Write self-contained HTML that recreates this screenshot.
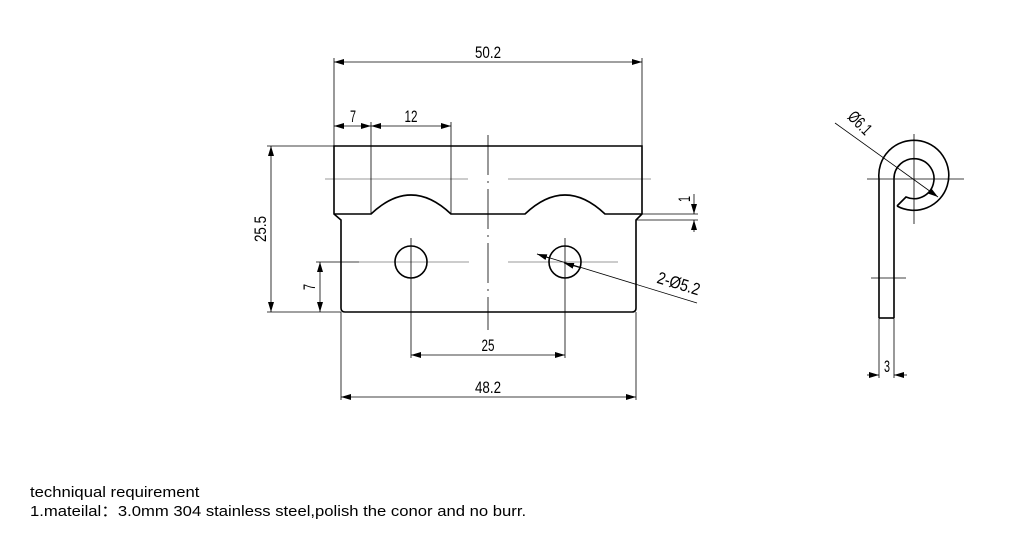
<!DOCTYPE html>
<html><head><style>
body{margin:0;background:#fff;width:1011px;height:549px;overflow:hidden;font-family:"Liberation Sans",sans-serif}
.t{position:absolute;left:30px;font-size:15px;color:#000;line-height:18px;transform-origin:0 0;transform:scaleX(1.11);white-space:nowrap}
</style></head><body>
<svg width="1011" height="549" style="position:absolute;left:0;top:0" font-family="Liberation Sans, sans-serif">
<defs><marker id="a" viewBox="0 0 10 6" refX="10" refY="3" markerWidth="10" markerHeight="6" orient="auto-start-reverse" markerUnits="userSpaceOnUse"><path d="M0,0L10,3L0,6z"/></marker></defs>
<g stroke="#999" stroke-width="1">
<line x1="325" y1="179" x2="468" y2="179"/><line x1="508" y1="179" x2="651" y2="179"/>
<line x1="359" y1="262" x2="469" y2="262"/><line x1="508" y1="262" x2="618" y2="262"/>
</g>
<g stroke="#000" stroke-width="0.8" fill="none">
<line x1="488" y1="135" x2="488" y2="330" stroke-dasharray="40,6,2,6"/>
<line x1="411" y1="238" x2="411" y2="358"/><line x1="565" y1="238" x2="565" y2="358"/>
<line x1="334" y1="58" x2="334" y2="146"/><line x1="642" y1="58" x2="642" y2="146"/>
<line x1="334" y1="62" x2="642" y2="62" marker-start="url(#a)" marker-end="url(#a)"/>
<line x1="371" y1="122" x2="371" y2="214"/><line x1="451" y1="122" x2="451" y2="214"/>
<line x1="334" y1="126" x2="371" y2="126" marker-start="url(#a)" marker-end="url(#a)"/>
<line x1="371" y1="126" x2="451" y2="126" marker-start="url(#a)" marker-end="url(#a)"/>
<line x1="267" y1="146" x2="334" y2="146"/><line x1="267" y1="312" x2="341" y2="312"/>
<line x1="271" y1="146" x2="271" y2="312" marker-start="url(#a)" marker-end="url(#a)"/>
<line x1="316" y1="262" x2="359" y2="262"/>
<line x1="320" y1="262" x2="320" y2="312" marker-start="url(#a)" marker-end="url(#a)"/>
<line x1="411" y1="355" x2="565" y2="355" marker-start="url(#a)" marker-end="url(#a)"/>
<line x1="341" y1="312" x2="341" y2="400"/><line x1="636" y1="312" x2="636" y2="400"/>
<line x1="341" y1="397" x2="636" y2="397" marker-start="url(#a)" marker-end="url(#a)"/>
<line x1="642" y1="214" x2="698" y2="214"/><line x1="636" y1="220" x2="698" y2="220"/>
<line x1="694" y1="194" x2="694" y2="214" marker-end="url(#a)"/><line x1="694" y1="232" x2="694" y2="220" marker-end="url(#a)"/>
<line x1="537" y1="254" x2="697" y2="303"/>
<line x1="537" y1="254" x2="549" y2="258" marker-start="url(#a)"/>
<line x1="565" y1="262" x2="582" y2="267" marker-end="url(#a)" transform="rotate(180 573 265)"/>
</g>
<g stroke="#000" stroke-width="1.6" fill="none">
<path d="M334,146H642V214L636,220V308Q636,312 632,312H345Q341,312 341,308V220L334,214Z"/>
<path d="M334,214H371Q411,176 451,214H525Q565,176 605,214H642"/>
<circle cx="411" cy="262" r="16"/><circle cx="565" cy="262" r="16"/>
</g>
<g font-size="17" fill="#000" text-anchor="middle">
<text x="488" y="58" textLength="26" lengthAdjust="spacingAndGlyphs">50.2</text>
<text x="353" y="122" textLength="6" lengthAdjust="spacingAndGlyphs">7</text>
<text x="411" y="122" textLength="13" lengthAdjust="spacingAndGlyphs">12</text>
<text x="488" y="351" textLength="13" lengthAdjust="spacingAndGlyphs">25</text>
<text x="488" y="393" textLength="26" lengthAdjust="spacingAndGlyphs">48.2</text>
<text transform="translate(266,229) rotate(-90)" textLength="26" lengthAdjust="spacingAndGlyphs">25.5</text>
<text transform="translate(315,287) rotate(-90)" textLength="6" lengthAdjust="spacingAndGlyphs">7</text>
<text transform="translate(690,199) rotate(-90)" textLength="6" lengthAdjust="spacingAndGlyphs">1</text>
<text transform="translate(677,289) rotate(17)" textLength="44" lengthAdjust="spacingAndGlyphs">2-Ø5.2</text>
<text transform="translate(856,127) rotate(45)" textLength="26" lengthAdjust="spacingAndGlyphs">Ø6.1</text>
<text x="887" y="372" textLength="6" lengthAdjust="spacingAndGlyphs">3</text>
</g>
<g stroke="#000" stroke-width="0.8" fill="none">
<line x1="867" y1="179" x2="964" y2="179"/><line x1="914" y1="134" x2="914" y2="224"/>
<line x1="871" y1="278" x2="906" y2="278"/>
<line x1="879" y1="318" x2="879" y2="378"/><line x1="894" y1="318" x2="894" y2="378"/>
<line x1="867" y1="375" x2="879" y2="375" marker-end="url(#a)"/><line x1="907" y1="375" x2="894" y2="375" marker-end="url(#a)"/>
<line x1="835" y1="123" x2="938" y2="197" marker-end="url(#a)"/>
</g>
<g stroke="#000" stroke-width="1.6" fill="none">
<path d="M879,318V179A35,35 0 1 1 897,206"/>
<path d="M894,318V179A20,20 0 1 1 906,197L897,206"/>
<line x1="879" y1="318" x2="894" y2="318"/>
</g>
</svg>
<div class="t" style="top:484px">techniqual requirement</div>
<div class="t" style="top:503px">1.mateilal：3.0mm 304 stainless steel,polish the conor and no burr.</div>
</body></html>
